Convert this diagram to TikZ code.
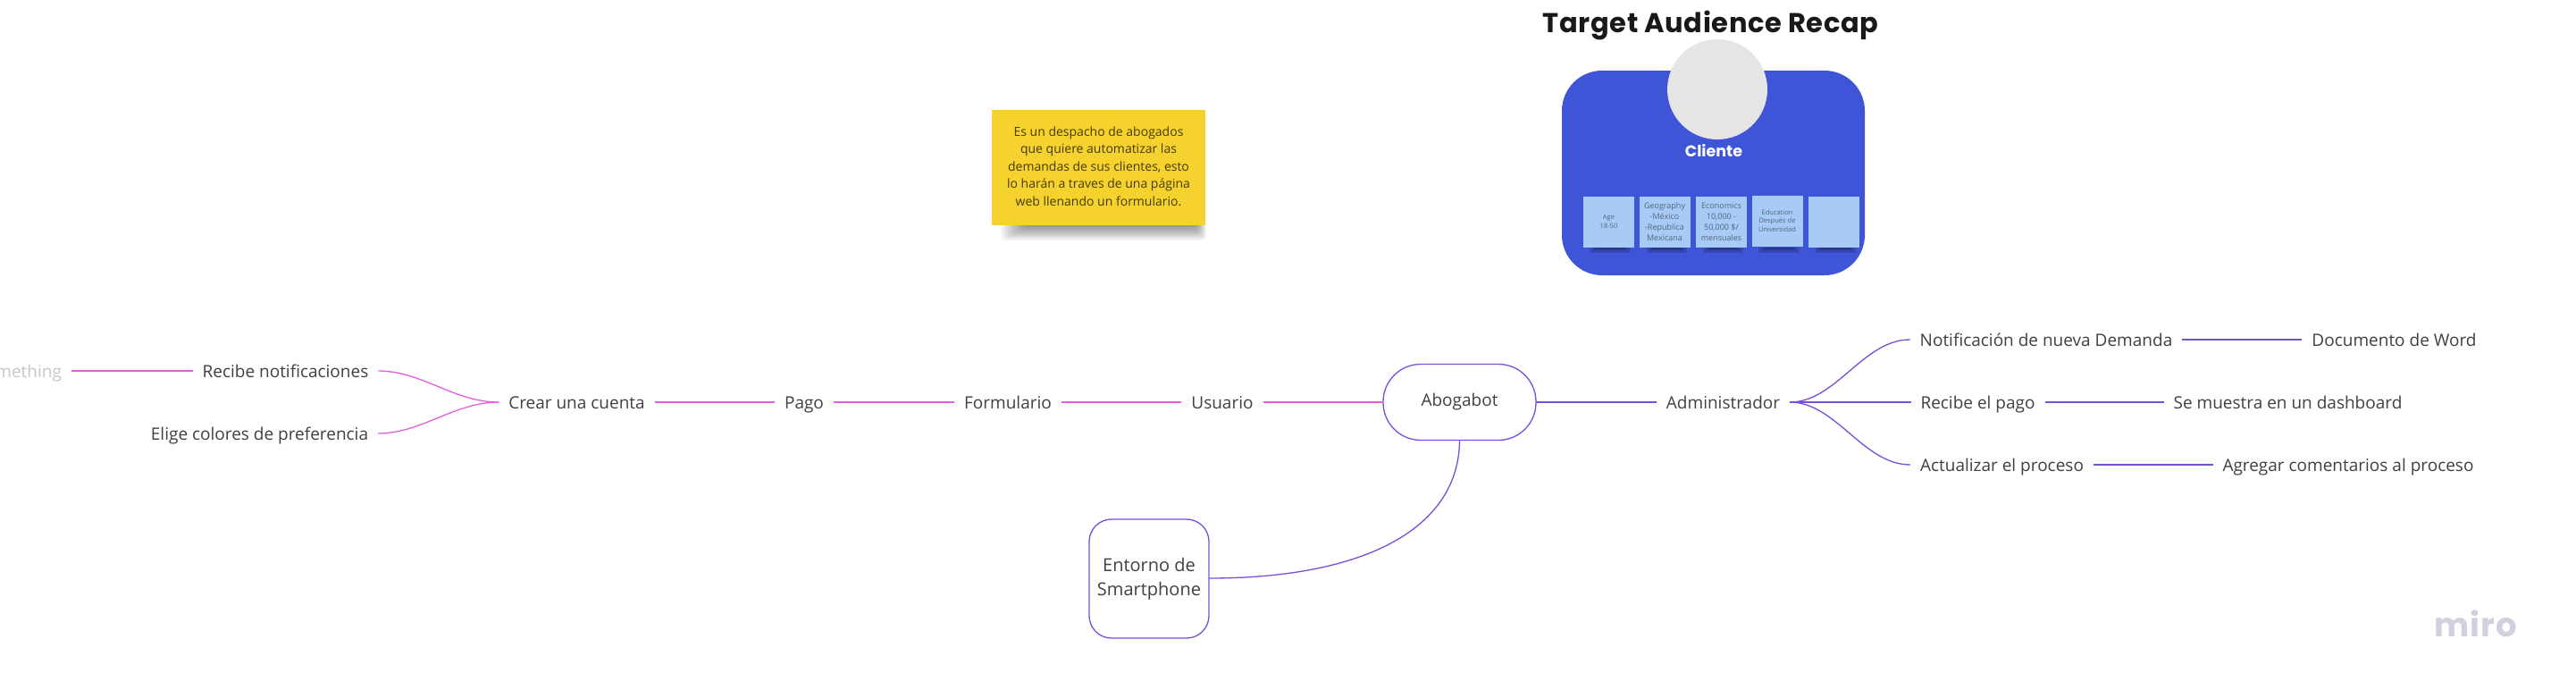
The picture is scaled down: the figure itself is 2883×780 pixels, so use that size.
\documentclass[tikz,border=0pt]{standalone}
\usepackage{fontspec}
\setmainfont{Open Sans}
\newfontfamily\pop{Poppins}
\definecolor{pinkline}{HTML}{E560DC}
\definecolor{purpline}{HTML}{7A4FD9}
\definecolor{inktext}{HTML}{404040}
\definecolor{cardblue}{HTML}{3F55D8}
\definecolor{stickyblue}{HTML}{A7CBF6}
\definecolor{stickyyellow}{HTML}{F5D22E}
\definecolor{mirogrey}{HTML}{D0D0DE}
\tikzset{
  lbl/.style={inner xsep=11pt,inner ysep=0pt,outer sep=0pt,text height=16pt,text depth=2pt,text=inktext,font=\fontsize{19}{25}\selectfont},
  pinkln/.style={draw=pinkline,line width=1.3pt},
  purpln/.style={draw=purpline,line width=1.3pt},
  boxnode/.style={draw=purpline,line width=1.3pt,fill=white,outer sep=0pt,text=inktext,font=\fontsize{19}{27}\selectfont,align=center,inner sep=0pt},
  stickynote/.style={fill=stickyblue,minimum width=57pt,minimum height=57pt,inner sep=0pt,outer sep=0pt,text=black!50!stickyblue,align=center},
}
\begin{document}
\begin{tikzpicture}[x=1pt,y=-1pt]
\useasboundingbox[fill=white] (0,0) rectangle (2883,780);
% title
\node[inner sep=0pt,text=black!90] (title) at (1914.5,28) {\pop\bfseries\fontsize{30.5}{36}\selectfont\addfontfeature{LetterSpace=2}Target Audience Recap};
% card
\fill[cardblue,rounded corners=45pt] (1748,79) rectangle (2087,308);
\node[circle,fill=black!10,minimum size=112pt,inner sep=0pt] (avatar) at (1922,100) {};
\node[inner sep=0pt,text=white] (cliente) at (1918,169) {\pop\bfseries\fontsize{17.5}{20}\selectfont Cliente};
% sticky shadows
\foreach \xa/\xb in {1780/1825,1843/1888,1906/1951,1968/2014,2031/2077}{
  \foreach \i in {0,1,2,3}{
    \fill[black,opacity=.10] (\xa+\i*2,277) rectangle (\xb-\i*2,283-\i*1.5);
  }
}
\node[stickynote,font=\fontsize{7.5}{10}\selectfont] (s1) at (1800.5,248.5) {\raisebox{3pt}{\begin{tabular}{@{}c@{}}Age\\18-50\end{tabular}}};
\node[stickynote,font=\fontsize{9}{12}\selectfont] (s2) at (1863,248.5) {Geography\\-México\\-Republica\\Mexicana};
\node[stickynote,font=\fontsize{9}{12}\selectfont] (s3) at (1926.5,248.5) {Economics\\10,000 -\\50,000 \$/\\mensuales};
\node[stickynote,font=\fontsize{7.5}{9.5}\selectfont] (s4) at (1989,247) {Education\\Después de\\Universidad};
\node[stickynote] (s5) at (2052.5,248) {};
% yellow note
\foreach \i in {0,...,11}{
  \fill[black,opacity=.04,rounded corners=5pt] (1120+\i*2.4,245) rectangle (1350-\i*1,269-\i*1.4);
}
\node[fill=stickyyellow,minimum width=239pt,minimum height=129pt,inner sep=0pt,outer sep=0pt,text=black!72!stickyyellow,align=center,font=\fontsize{14}{19.4}\selectfont] (note) at (1229.5,187.5) {\raisebox{9pt}{\begin{tabular}{@{}c@{}}Es un despacho de abogados\\que quiere automatizar las\\demandas de sus clientes, esto\\lo harán a traves de una página\\web llenando un formulario.\end{tabular}}};
% main nodes
\node[boxnode,rounded corners=42pt,minimum width=171pt,minimum height=85pt] (abog) at (1633.5,450) {Abogabot};
\node[boxnode,rounded corners=25pt,minimum width=134pt,minimum height=133pt,font=\fontsize{20}{27}\selectfont] (ent) at (1286,647.5) {\raisebox{8pt}{\begin{tabular}{@{}c@{}}Entorno de\\Smartphone\end{tabular}}};
% left chain
\node[lbl] (usuario) at (1368,450) {Usuario};
\node[lbl] (form) at (1128,450) {Formulario};
\node[lbl] (pago) at (900,450) {Pago};
\node[lbl] (crear) at (645.5,450) {Crear una cuenta};
\node[lbl] (recnot) at (319.5,415) {Recibe notificaciones};
\node[lbl] (elige) at (290.5,485) {Elige colores de preferencia};
\node[lbl,anchor=east,text=black!22] (some) at (80,415) {mething};
% right chain
\node[lbl] (admin) at (1928.5,450) {Administrador};
\node[lbl] (notif) at (2290,380) {Notificación de nueva Demanda};
\node[lbl] (recpago) at (2213.5,450) {Recibe el pago};
\node[lbl] (actual) at (2240.5,520) {Actualizar el proceso};
\node[lbl] (docword) at (2679.5,380) {Documento de Word};
\node[lbl] (dash) at (2560.5,450) {Se muestra en un dashboard};
\node[lbl] (coment) at (2628,520) {Agregar comentarios al proceso};
% connectors
\draw[pinkln] (abog.west) -- (usuario.east);
\draw[pinkln] (usuario.west) -- (form.east);
\draw[pinkln] (form.west) -- (pago.east);
\draw[pinkln] (pago.west) -- (crear.east);
\draw[pinkln] (crear.west) .. controls (508,450) and (472,415) .. (recnot.east);
\draw[pinkln] (crear.west) .. controls (508,450) and (472,485) .. (elige.east);
\draw[pinkln] (recnot.west) -- (some.east);
\draw[purpln] (abog.east) -- (admin.west);
\draw[purpln] (admin.east) .. controls (2055,450) and (2085,380) .. (notif.west);
\draw[purpln] (admin.east) -- (recpago.west);
\draw[purpln] (admin.east) .. controls (2055,450) and (2085,520) .. (actual.west);
\draw[purpln] (notif.east) -- (docword.west);
\draw[purpln] (recpago.east) -- (dash.west);
\draw[purpln] (actual.east) -- (coment.west);
\coordinate (entport) at (ent.east |- 0,647);
\draw[purpln] (abog.south) .. controls (1633,590) and (1530,647) .. (entport);
% logo
\node[inner sep=0pt,text=mirogrey] (miro) at (2770.5,698) {\pop\bfseries\fontsize{37}{44}\selectfont\addfontfeature{LetterSpace=3}miro};
\end{tikzpicture}
\end{document}
